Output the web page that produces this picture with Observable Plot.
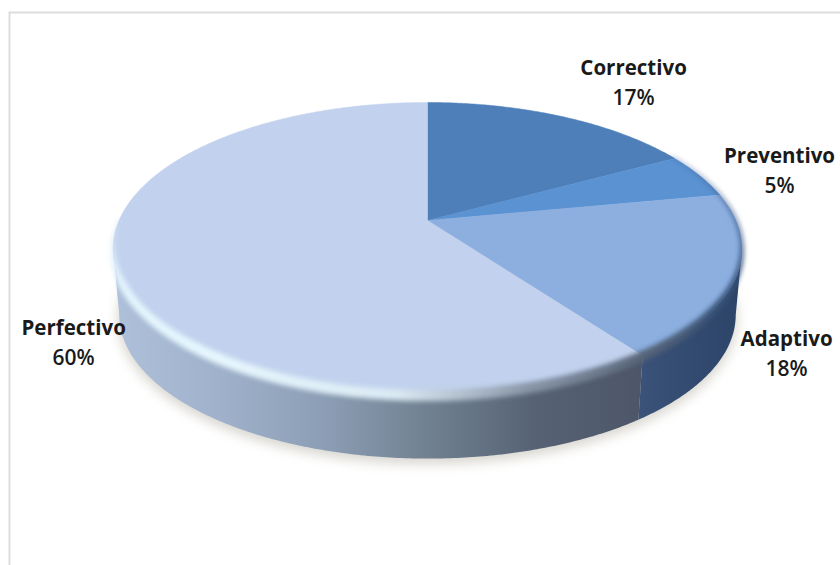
<!DOCTYPE html>
<html>
<head>
<meta charset="utf-8">
<script src="https://cdn.jsdelivr.net/npm/d3@7"></script>
<script src="https://cdn.jsdelivr.net/npm/@observablehq/plot@0.6"></script>
<style>
  html, body { margin: 0; padding: 0; background: #fff; }
  svg { display: block; }
</style>
</head>
<body>
<div id="chart"></div>
<script>
// Maintenance types and their shares
const categories = ["Correctivo", "Preventivo", "Adaptivo", "Perfectivo"];
const shares = [17, 5, 18, 60];
const sliceColors = ["#4e7fb9", "#5b92d2", "#8cafe0", "#c2d2ee"];

// Label anchors on the pie's own plane (same units as the x and y scales)
const labelU = [0.668, 1.141, 1.164, -1.147];
const labelV = [0.972, 0.348, -0.950, -0.872];

// Bevel along the top face: angle in degrees clockwise from twelve o'clock
const rimAngles = [60, 100, 125, 144, 165, 185, 215, 245, 258, 270];
const rimColors = ["#41689c", "#34507a", "#3a5478", "#566377", "#8a97a8", "#dbeaf3", "#e6f6fd", "#e2f4fc", "#dcecf8", "#c8d8f0"];
const rimWidths = [1, 3, 8, 10, 11, 11, 11, 8, 3, 1];

// Perspective of the tilted disc and the thickness of its side
const tilt = 0.1945;
const depth = 0.472;
const baseScale = 0.98;

const rimColor = d3.scaleLinear().domain(rimAngles).range(rimColors).interpolate(d3.interpolateRgb);
const rimWidth = d3.scaleLinear().domain(rimAngles).range(rimWidths);

// A point of the disc rim at angle t, optionally on the lower face
function rimPoint(t, lower = false) {
  const w = 1 + tilt * Math.cos(t);
  const s = lower ? baseScale : 1;
  return {x: s * Math.sin(t) / w, y: s * Math.cos(t) / w - (lower ? depth : 0)};
}

function arc(t0, t1, lower = false) {
  const n = Math.max(2, Math.ceil(Math.abs(t1 - t0) / 0.01));
  return d3.range(n + 1).map((i) => rimPoint(t0 + (t1 - t0) * i / n, lower));
}

const arcs = d3.pie().sort(null).startAngle(0).endAngle(2 * Math.PI)(shares);

// Top face: one closed wedge per category
const faces = arcs.flatMap((a, i) =>
  [{x: 0, y: 0}, ...arc(a.startAngle, a.endAngle), {x: 0, y: 0}].map((p) => ({...p, category: categories[i]}))
);

// Side wall is only visible between the two silhouette tangents of the disc
const tangentRight = Math.acos(-tilt);
const tangentLeft = 2 * Math.PI - tangentRight;
const boundary = arcs[2].endAngle;
const wall = (t0, t1) => [...arc(t0, t1), ...arc(t1, t0, true), rimPoint(t0)];
const wallAdaptivo = wall(tangentRight, boundary);
const wallPerfectivo = wall(boundary, tangentLeft);
const base = arc(0, 2 * Math.PI, true);

// Short bevel pieces, each with its own colour and width
const rimPieces = d3.range(rimAngles[0], rimAngles[rimAngles.length - 1], 1.5).flatMap((deg) => {
  const t0 = deg * Math.PI / 180, t1 = (deg + 1.7) * Math.PI / 180;
  const style = {piece: deg, color: rimColor(deg), width: rimWidth(deg)};
  return [{...rimPoint(t0), ...style}, {...rimPoint(t1), ...style}];
});

const labels = categories.map((name, i) => ({name, pct: `${shares[i]}%`, u: labelU[i], v: labelV[i]}));

function gradient(id, stops) {
  const g = d3.create("svg:linearGradient").attr("id", id).attr("x1", 0).attr("x2", 1).attr("y1", 0).attr("y2", 0);
  stops.forEach(([o, c]) => g.append("stop").attr("offset", o).attr("stop-color", c));
  return g.node();
}

const labelFont = {fontFamily: "'Open Sans', Lato, sans-serif", fill: "#1a1a1a"};

const plot = Plot.plot({
  width: 840,
  height: 565,
  margin: 0,
  style: {background: "#fff"},
  x: {axis: null, domain: [-1, 1], range: [118.5, 735.5]},
  y: {axis: null, domain: [-1, 1], range: [361, 79]},
  color: {domain: categories, range: sliceColors},
  marks: [
    () => {
      const defs = d3.create("svg:defs");
      defs.append(() => gradient("sideLight", [[0, "#aec0da"], [0.2, "#a0b2cb"], [0.4, "#8c9eb5"], [0.6, "#708090"], [0.8, "#566274"], [1, "#4c5668"]]));
      defs.append(() => gradient("sideDark", [[0, "#3b5279"], [1, "#2c4468"]]));
      return defs.node();
    },
    // Outer frame of the chart area
    Plot.frame({stroke: "#dddddd", strokeWidth: 2, insetLeft: 9, insetTop: 12, insetRight: -3, insetBottom: -3}),
    // Soft shadow under the disc
    Plot.line(base, {x: "x", y: "y", dy: 4, fill: "#d8d6d0", stroke: "#d8d6d0", strokeWidth: 3, imageFilter: "blur(6px)"}),
    // Side wall
    Plot.line(wallPerfectivo, {x: "x", y: "y", fill: "url(#sideLight)", stroke: "none"}),
    Plot.line(wallAdaptivo, {x: "x", y: "y", fill: "url(#sideDark)", stroke: "none"}),
    // Top face
    Plot.line(faces, {x: "x", y: "y", z: "category", fill: "category", stroke: "category", strokeWidth: 0.5}),
    // Bevel on the visible edge
    Plot.line(rimPieces, {x: "x", y: "y", z: "piece", stroke: "color", strokeWidth: "width", imageFilter: "blur(2.4px)"}),
    // Labels
    Plot.text(labels, {x: "u", y: "v", text: "name", dy: -15, fontWeight: 700, fontSize: 20.5, ...labelFont}),
    Plot.text(labels, {x: "u", y: "v", text: "pct", dy: 15, fontWeight: 600, fontSize: 21, ...labelFont})
  ]
});
document.getElementById("chart").append(plot);
</script>
</body>
</html>
